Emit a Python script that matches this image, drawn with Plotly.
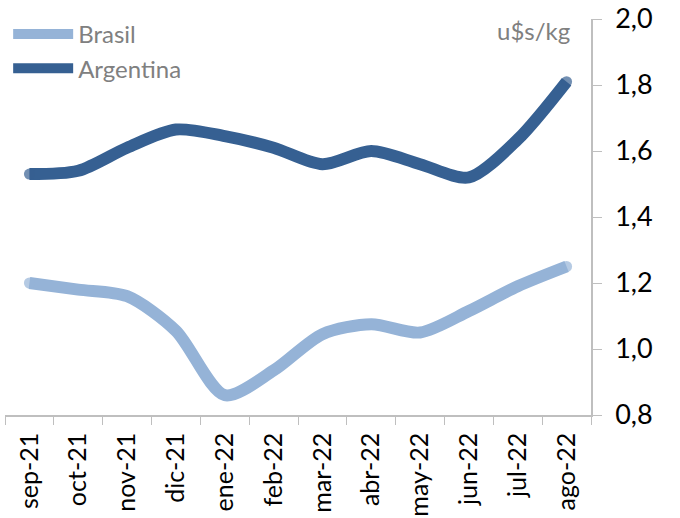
import plotly.graph_objects as go

months = ["sep-21", "oct-21", "nov-21", "dic-21", "ene-22", "feb-22",
          "mar-22", "abr-22", "may-22", "jun-22", "jul-22", "ago-22"]
brasil = [1.20, 1.18, 1.16, 1.055, 0.86, 0.935, 1.045, 1.075, 1.05, 1.115, 1.19, 1.25]
argentina = [1.53, 1.54, 1.61, 1.665, 1.645, 1.61, 1.56, 1.60, 1.56, 1.52, 1.635, 1.81]
y_ticks = [0.8, 1.0, 1.2, 1.4, 1.6, 1.8, 2.0]
y_ticklabels = ["0,8", "1,0", "1,2", "1,4", "1,6", "1,8", "2,0"]

FONT = "Lato"
LW = 12
n = len(months)
end_caps = [LW - 1] + [0] * (n - 2) + [LW - 1]

fig = go.Figure()
fig.add_trace(go.Scatter(x=months, y=brasil, name="Brasil", mode="lines+markers",
                         line=dict(color="#95B3D7", width=LW, shape="spline", smoothing=0.8),
                         marker=dict(size=end_caps, color="#95B3D7", line=dict(width=0)),
                         legendgroup="b", hoverinfo="skip"))
fig.add_trace(go.Scatter(x=months, y=argentina, name="Argentina", mode="lines+markers",
                         line=dict(color="#366092", width=LW, shape="spline", smoothing=0.8),
                         marker=dict(size=end_caps, color="#366092", line=dict(width=0)),
                         legendgroup="a", hoverinfo="skip"))

fig.update_layout(
    width=680, height=518,
    margin=dict(l=5, r=89, t=19, b=103, autoexpand=False),
    paper_bgcolor="white", plot_bgcolor="white",
    font=dict(family=FONT, color="black"),
    showlegend=True,
    legend=dict(xref="container", yref="container", x=0.012, y=0.977,
                xanchor="left", yanchor="top",
                font=dict(size=24, color="#808080", family=FONT),
                bgcolor="rgba(0,0,0,0)", tracegroupgap=31, itemwidth=60,
                traceorder="normal"),
    xaxis=dict(type="category", range=[-0.5, n - 0.5], showgrid=False, showline=True,
               linecolor="#BFBFBF", linewidth=1.5, ticks="outside", tickson="boundaries",
               ticklen=8, tickcolor="#BFBFBF", tickangle=-90, automargin=False,
               ticklabelstandoff=6,
               tickfont=dict(size=25, family=FONT, color="black")),
    yaxis=dict(side="right", range=[0.8, 2.0], tickvals=y_ticks, ticktext=y_ticklabels,
               showgrid=False, showline=True, linecolor="#BFBFBF", linewidth=1.5,
               ticks="outside", ticklen=9, tickcolor="#BFBFBF", zeroline=False,
               automargin=False, ticklabelstandoff=8,
               tickfont=dict(size=27, family=FONT, color="black")),
    annotations=[dict(text="u$s/kg", xref="paper", yref="paper", x=0.968, y=1.012,
                      xanchor="right", yanchor="top", showarrow=False,
                      font=dict(size=24, color="#808080", family=FONT))],
)

fig.write_html("out.html", config={"displayModeBar": False},
               post_script="document.body.style.margin='0';")
